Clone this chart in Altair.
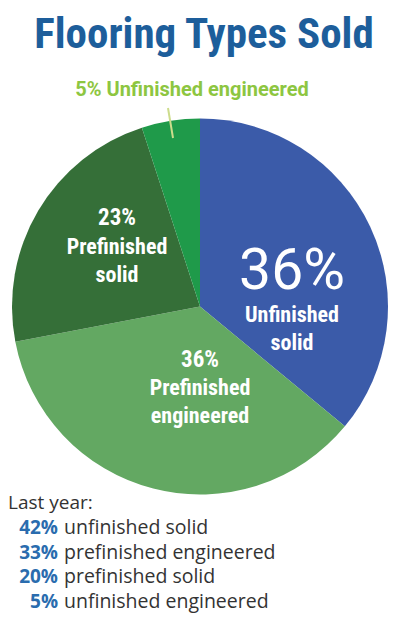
import altair as alt
import pandas as pd

# ---- data ----
categories = ["Unfinished solid", "Prefinished engineered", "Prefinished solid", "Unfinished engineered"]
shares = [36, 36, 23, 5]
slice_order = [1, 2, 3, 4]
slice_colors = ["#3b5ba9", "#63a862", "#356f38", "#1f9a4a"]

label_pct = ["36%", "36%", "23%"]
label_names = ["Unfinished\nsolid", "Prefinished\nengineered", "Prefinished\nsolid"]
small_label = "5% Unfinished engineered"

last_year_pct = ["42%", "33%", "20%", "5%"]
last_year_names = ["unfinished solid", "prefinished engineered", "prefinished solid", "unfinished engineered"]

title_text = "Flooring Types Sold"

# ---- layout (chart coords = page coords - 8) ----
W, H = 384, 628
CX, CY, R = 192, 298.5, 188
COND = "Roboto Condensed, Noto Sans Condensed, DejaVu Sans Condensed, Roboto"
BODY = "Open Sans, Noto Sans"

pie_df = pd.DataFrame({"category": categories, "share": shares, "order": slice_order})

pie = alt.Chart(pie_df).mark_arc(outerRadius=R, strokeWidth=0).encode(
    theta=alt.Theta("share:Q", stack=True),
    order=alt.Order("order:Q"),
    color=alt.Color("category:N", scale=alt.Scale(domain=categories, range=slice_colors), legend=None),
    x=alt.value(CX),
    y=alt.value(CY),
)

# slice labels
pos_pct = [(284, 281), (192, 352), (109, 210)]
pos_name = [(284, 307), (192, 380), (109, 239)]
pct_font = ["Roboto", COND, COND]
pct_size = [57, 23, 23]
pct_weight = ["normal", "bold", "bold"]
pct_base = ["alphabetic", "middle", "middle"]

layers = [pie]
for i in range(3):
    dfp = pd.DataFrame({"t": [label_pct[i]]})
    layers.append(
        alt.Chart(dfp).mark_text(
            font=pct_font[i], fontSize=pct_size[i], fontWeight=pct_weight[i], color="white",
            align="center", baseline=pct_base[i],
        ).encode(text="t:N", x=alt.value(pos_pct[i][0]), y=alt.value(pos_pct[i][1]))
    )
    dfn = pd.DataFrame({"t": [label_names[i]]})
    layers.append(
        alt.Chart(dfn).mark_text(
            font=COND, fontSize=22, fontWeight="bold", color="white",
            align="center", baseline="middle", lineBreak="\n", lineHeight=28,
        ).encode(text="t:N", x=alt.value(pos_name[i][0]), y=alt.value(pos_name[i][1]))
    )

# small outside label + leader
layers.append(
    alt.Chart(pd.DataFrame({"t": [small_label]})).mark_text(
        font="Roboto", fontSize=20, fontWeight="bold", color="#8dc641",
        align="center", baseline="middle",
    ).encode(text="t:N", x=alt.value(184), y=alt.value(82))
)
layers.append(
    alt.Chart(pd.DataFrame({"t": [small_label]})).mark_rule(color="#cddc8c", strokeWidth=2).encode(
        x=alt.value(160), y=alt.value(100), x2=alt.value(165), y2=alt.value(130)
    )
)

# title
layers.append(
    alt.Chart(pd.DataFrame({"t": [title_text]})).mark_text(
        font=COND, fontSize=43, fontWeight="bold", color="#1d5e9b",
        align="center", baseline="middle",
    ).encode(text="t:N", x=alt.value(196), y=alt.value(27))
)

# last year block
layers.append(
    alt.Chart(pd.DataFrame({"t": ["Last year:"]})).mark_text(
        font=BODY, fontSize=19, color="#333333", align="left", baseline="middle",
    ).encode(text="t:N", x=alt.value(0), y=alt.value(495))
)
ly = pd.DataFrame({"pct": last_year_pct, "name": last_year_names, "row": list(range(len(last_year_pct)))})
ly["ypos"] = 520 + ly["row"] * 24.7
layers.append(
    alt.Chart(ly).mark_text(
        font=BODY, fontSize=19, fontWeight="bold", color="#2a6cae", align="right", baseline="middle",
    ).encode(text="pct:N", x=alt.value(50), y=alt.Y("ypos:Q", scale=None, axis=None))
)
layers.append(
    alt.Chart(ly).mark_text(
        font=BODY, fontSize=19.5, color="#333333", align="left", baseline="middle",
    ).encode(text="name:N", x=alt.value(56), y=alt.Y("ypos:Q", scale=None, axis=None))
)

chart = alt.layer(*layers).properties(
    width=W, height=H, autosize=alt.AutoSizeParams(type="none"), padding=0,
).configure_view(stroke=None)

chart.save("out.html", embed_options={"renderer": "svg", "actions": False})
